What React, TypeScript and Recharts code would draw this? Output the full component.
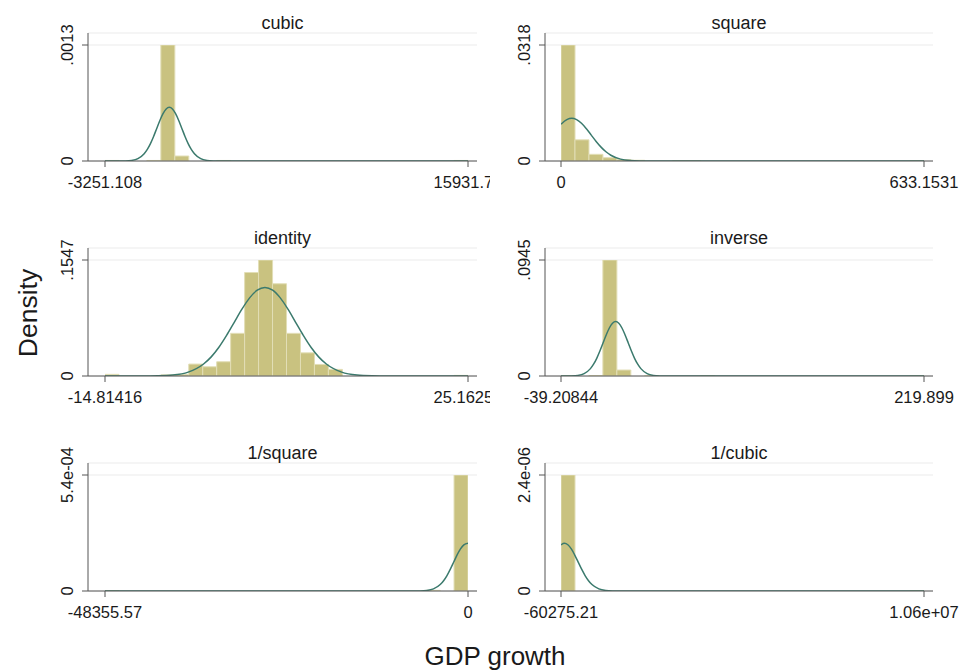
import React from 'react';
import { ComposedChart, Bar, Line, XAxis, YAxis, CartesianGrid } from 'recharts';

const FONT = '"Liberation Sans", Arial, Helvetica, sans-serif';

// ---- data ----
const titles = ['cubic', 'square', 'identity', 'inverse', '1/square', '1/cubic'];
const xMins = [-3251.108, 0, -14.81416, -39.20844, -48355.57, -60275.21];
const xMaxs = [15931.74, 633.1531, 25.16258, 219.899, 0, 10600000];
const xTickLabels = [
  ['-3251.108', '15931.74'],
  ['0', '633.1531'],
  ['-14.81416', '25.16258'],
  ['-39.20844', '219.899'],
  ['-48355.57', '0'],
  ['-60275.21', '1.06e+07'],
];
const yMaxs = [0.0013, 0.0318, 0.1547, 0.0945, 0.00054, 0.0000024];
const yTickLabels = [
  ['0', '.0013'],
  ['0', '.0318'],
  ['0', '.1547'],
  ['0', '.0945'],
  ['0', '5.4e-04'],
  ['0', '2.4e-06'],
];

// histogram densities (26 equal bins from min to max)
const cubicBins = [0.000006, 0, 0, 0.000006, 0.0013, 0.000056, 0, 0, 0.000006, 0, 0, 0, 0, 0, 0, 0, 0, 0, 0, 0, 0, 0, 0, 0, 0, 0.000006];
const squareBins = [0.0318, 0.0058, 0.00183, 0.0009, 0.0004, 0.0002, 0, 0, 0.0001, 0.0001, 0, 0, 0, 0, 0, 0, 0, 0, 0, 0, 0, 0, 0, 0, 0, 0.0001];
const identityBins = [0.0022, 0, 0, 0, 0.0015, 0.0022, 0.0159, 0.0123, 0.019, 0.0569, 0.138, 0.1547, 0.123, 0.0569, 0.0309, 0.0154, 0.0088, 0, 0, 0, 0, 0, 0, 0, 0, 0.0008];
const inverseBins = [0.0004, 0, 0.0004, 0.0945, 0.00487, 0, 0.0004, 0, 0, 0, 0.0003, 0, 0, 0, 0, 0, 0, 0, 0, 0, 0, 0, 0, 0, 0, 0.0003];
const invSquareBins = [0.000002, 0, 0, 0, 0, 0, 0, 0, 0, 0, 0, 0, 0, 0, 0, 0, 0, 0, 0, 0, 0, 0, 0, 0.000003, 0, 0.00054];
const invCubicBins = [0.0000024, 0, 0, 0, 0, 0, 0, 0, 0, 0, 0, 0, 0, 0, 0, 0, 0, 0, 0, 0, 0, 0, 0, 0, 0, 0.00000001];

// normal density overlays
const cubicCurve = [
  { x: -3251.108, y: 0 }, { x: -2509, y: 0.0000002 }, { x: -2177, y: 0.0000013 }, { x: -1845, y: 0.0000067 },
  { x: -1513, y: 0.0000264 }, { x: -1181, y: 0.0000813 }, { x: -1015, y: 0.00013 }, { x: -849, y: 0.000195 },
  { x: -683, y: 0.000275 }, { x: -517, y: 0.000365 }, { x: -351, y: 0.000454 }, { x: -185, y: 0.00053 },
  { x: -19, y: 0.000582 }, { x: 147, y: 0.000601 }, { x: 313, y: 0.000582 }, { x: 479, y: 0.00053 },
  { x: 645, y: 0.000454 }, { x: 811, y: 0.000365 }, { x: 977, y: 0.000275 }, { x: 1143, y: 0.000195 },
  { x: 1309, y: 0.00013 }, { x: 1475, y: 0.0000813 }, { x: 1807, y: 0.0000264 }, { x: 2139, y: 0.0000067 },
  { x: 2471, y: 0.0000013 }, { x: 2803, y: 0.0000002 }, { x: 15931.74, y: 0 },
];
const squareCurve = [
  { x: 0, y: 0.01006 }, { x: 10.2, y: 0.01134 }, { x: 18.7, y: 0.0117 }, { x: 27.2, y: 0.01134 },
  { x: 35.75, y: 0.01033 }, { x: 44.3, y: 0.00883 }, { x: 52.8, y: 0.0071 }, { x: 61.3, y: 0.00536 },
  { x: 69.85, y: 0.0038 }, { x: 78.4, y: 0.00253 }, { x: 86.9, y: 0.00158 }, { x: 103.95, y: 0.000514 },
  { x: 121, y: 0.00013 }, { x: 138, y: 0.000026 }, { x: 155, y: 0.0000035 }, { x: 633.1531, y: 0 },
];
const identityCurve = [
  { x: -14.81416, y: 0 }, { x: -10.72, y: 0.00004 }, { x: -9.03, y: 0.0003 }, { x: -7.34, y: 0.0013 },
  { x: -5.65, y: 0.0052 }, { x: -3.96, y: 0.016 }, { x: -3.115, y: 0.0255 }, { x: -2.27, y: 0.0383 },
  { x: -1.425, y: 0.0541 }, { x: -0.58, y: 0.0716 }, { x: 0.265, y: 0.0891 }, { x: 1.11, y: 0.1042 },
  { x: 1.955, y: 0.1145 }, { x: 2.8, y: 0.1181 }, { x: 3.645, y: 0.1145 }, { x: 4.49, y: 0.1042 },
  { x: 5.335, y: 0.0891 }, { x: 6.18, y: 0.0716 }, { x: 7.025, y: 0.0541 }, { x: 7.87, y: 0.0383 },
  { x: 8.715, y: 0.0255 }, { x: 9.56, y: 0.016 }, { x: 11.25, y: 0.0052 }, { x: 12.94, y: 0.0013 },
  { x: 14.63, y: 0.0003 }, { x: 16.32, y: 0.00004 }, { x: 25.16258, y: 0 },
];
const inverseCurve = [
  { x: -39.20844, y: 0 }, { x: -36.2, y: 0.000015 }, { x: -31.7, y: 0.0001 }, { x: -27.2, y: 0.00049 },
  { x: -22.7, y: 0.00194 }, { x: -18.2, y: 0.006 }, { x: -15.95, y: 0.0096 }, { x: -13.7, y: 0.0144 },
  { x: -11.45, y: 0.0203 }, { x: -9.2, y: 0.0269 }, { x: -6.95, y: 0.0334 }, { x: -4.7, y: 0.0391 },
  { x: -2.45, y: 0.0429 }, { x: -0.2, y: 0.0443 }, { x: 2.05, y: 0.0429 }, { x: 4.3, y: 0.0391 },
  { x: 6.55, y: 0.0334 }, { x: 8.8, y: 0.0269 }, { x: 11.05, y: 0.0203 }, { x: 13.3, y: 0.0144 },
  { x: 15.55, y: 0.0096 }, { x: 17.8, y: 0.006 }, { x: 22.3, y: 0.00194 }, { x: 26.8, y: 0.00049 },
  { x: 31.3, y: 0.0001 }, { x: 35.8, y: 0.000015 }, { x: 219.899, y: 0 },
];
const invSquareCurve = [
  { x: -48355.57, y: 0 }, { x: -8200, y: 0 }, { x: -7300, y: 0.00000007 }, { x: -6400, y: 0.00000049 },
  { x: -5500, y: 0.0000025 }, { x: -4600, y: 0.0000097 }, { x: -3700, y: 0.00003 }, { x: -3250, y: 0.000048 },
  { x: -2800, y: 0.000072 }, { x: -2350, y: 0.000102 }, { x: -1900, y: 0.000135 }, { x: -1450, y: 0.000168 },
  { x: -1000, y: 0.000196 }, { x: -550, y: 0.000215 }, { x: 0, y: 0.000222 },
];
const invCubicCurve = [
  { x: -60275.21, y: 0.000000956 }, { x: 40000, y: 0.000000986 }, { x: 141150, y: 0.000000956 },
  { x: 242300, y: 0.00000087 }, { x: 343450, y: 0.000000744 }, { x: 444600, y: 0.000000598 },
  { x: 545750, y: 0.000000451 }, { x: 646900, y: 0.00000032 }, { x: 748050, y: 0.000000213 },
  { x: 849200, y: 0.000000133 }, { x: 1051500, y: 0.0000000433 }, { x: 1253800, y: 0.0000000109 },
  { x: 1456100, y: 0.0000000022 }, { x: 1658400, y: 0.0000000003 }, { x: 10600000, y: 0 },
];

const allBins = [cubicBins, squareBins, identityBins, inverseBins, invSquareBins, invCubicBins];
const allCurves = [cubicCurve, squareCurve, identityCurve, inverseCurve, invSquareCurve, invCubicCurve];

// ---- styles ----
const BAR_FILL = '#C9C280';
const BAR_EDGE = '#E2DEB6';
const CURVE = '#3B7A6D';
const AXIS = '#555555';
const TEXT = '#1a1a1a';
const TICK_FS = 16.5;

const COL_LEFT = [40, 497];
const COL_WIDTH = [450, 462];
const COL_MRIGHT = [13, 26];
const COL_PADL = [17, 16];
const ROW_STEP = 215;
const CH_H = 200;

function Panel({ idx }: { idx: number }) {
  const col = idx % 2;
  const row = Math.floor(idx / 2);
  const xMin = xMins[idx];
  const xMax = xMaxs[idx];
  const yMax = yMaxs[idx];
  const bins = allBins[idx];
  const binW = (xMax - xMin) / bins.length;
  const barData = bins.map((h, k) => ({ x: xMin + (k + 0.5) * binW, h }));
  const width = COL_WIDTH[col];
  const pad = { left: COL_PADL[col], right: 9 };
  const yLabels = yTickLabels[idx];
  const xLabels = xTickLabels[idx];
  const YTick = (p: any) => (
    <text
      x={p.x}
      y={p.y}
      transform={`rotate(-90 ${p.x} ${p.y})`}
      textAnchor="middle"
      fill={TEXT}
      fontSize={TICK_FS}
      fontFamily={FONT}
    >
      {yLabels[p.index]}
    </text>
  );
  return (
    <div style={{ position: 'absolute', left: COL_LEFT[col], top: row * ROW_STEP, width, height: CH_H, overflow: 'hidden' }}>
      <ComposedChart
        width={width}
        height={CH_H}
        data={barData}
        margin={{ top: 33, right: COL_MRIGHT[col], bottom: 0, left: 0 }}
        barCategoryGap={0}
        barGap={0}
      >
        <CartesianGrid vertical={false} stroke="#ebebeb" />
        <XAxis
          dataKey="x"
          type="number"
          domain={[xMin, xMax]}
          ticks={[xMin, xMax]}
          interval={0}
          padding={pad}
          height={39}
          tickSize={6}
          tickMargin={9}
          stroke={AXIS}
          tick={{ fill: TEXT, fontSize: TICK_FS, fontFamily: FONT }}
          tickFormatter={(v: any, i: number) => xLabels[i]}
          allowDataOverflow
        />
        <XAxis xAxisId="c" dataKey="x" type="number" domain={[xMin, xMax]} padding={pad} hide allowDataOverflow />
        <YAxis
          type="number"
          domain={[0, yMax]}
          ticks={[0, yMax]}
          interval={0}
          width={48}
          padding={{ top: 12, bottom: 0 }}
          tickSize={6}
          tickMargin={9}
          stroke={AXIS}
          tick={YTick}
          allowDataOverflow
        />
        <Bar dataKey="h" fill={BAR_FILL} stroke={BAR_EDGE} strokeWidth={1} isAnimationActive={false} />
        <Line
          xAxisId="c"
          data={allCurves[idx]}
          dataKey="y"
          type="monotone"
          stroke={CURVE}
          strokeWidth={1.5}
          dot={false}
          activeDot={false}
          isAnimationActive={false}
        />
      </ComposedChart>
    </div>
  );
}

export default function App() {
  const centers = [282.5, 739];
  return (
    <div style={{ position: 'absolute', left: 0, top: 0, width: 959, height: 670, background: '#ffffff', fontFamily: FONT, overflow: 'hidden' }}>
      {titles.map((t, i) => (
        <Panel key={t} idx={i} />
      ))}
      <svg width={959} height={670} style={{ position: 'absolute', left: 0, top: 0, pointerEvents: 'none' }}>
        {titles.map((t, i) => (
          <text
            key={t}
            x={centers[i % 2]}
            y={29 + ROW_STEP * Math.floor(i / 2)}
            textAnchor="middle"
            fontSize={18}
            fontFamily={FONT}
            fill={TEXT}
          >
            {t}
          </text>
        ))}
        <text x={37} y={313} transform="rotate(-90 37 313)" textAnchor="middle" fontSize={26.5} fontFamily={FONT} fill={TEXT}>
          Density
        </text>
        <text x={495} y={665} textAnchor="middle" fontSize={26} fontFamily={FONT} fill={TEXT}>
          GDP growth
        </text>
      </svg>
    </div>
  );
}
